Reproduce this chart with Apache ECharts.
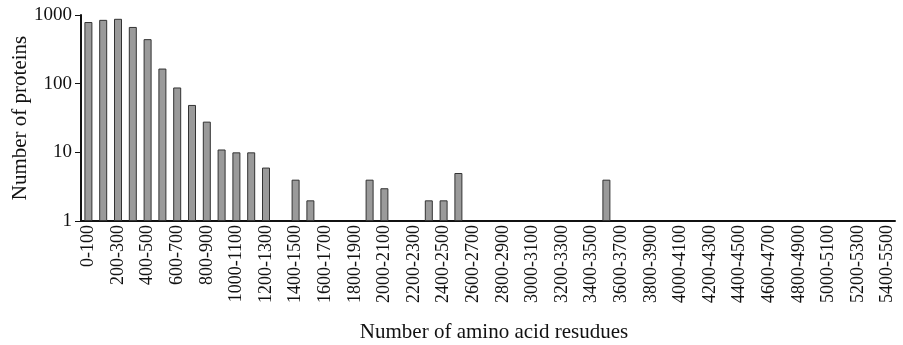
<!DOCTYPE html>
<html>
<head>
<meta charset="utf-8">
<script src="https://cdn.jsdelivr.net/npm/echarts@6/dist/echarts.min.js"></script>
<style>
  html, body { margin: 0; padding: 0; background: #fff; }
  #chart { width: 903px; height: 345px; }
</style>
</head>
<body>
<div id="chart"></div>
<script>
// 区间分类 0-100 ... 5400-5500
const categories = [];
for (let i = 0; i < 55; i++) {
  categories.push(i * 100 + "-" + (i + 1) * 100);
}

// 各区间蛋白质数量（'-' 表示没有柱子）
const proteinCounts = [
  790, 850, 880, 670, 445, 166, 88, 49, 28, 11,
  10, 10, 6, "-", 4, 2, "-", "-", "-", 4,
  3, "-", "-", 2, 2, 5, "-", "-", "-", "-",
  "-", "-", "-", "-", "-", 4, "-", "-", "-", "-",
  "-", "-", "-", "-", "-", "-", "-", "-", "-", "-",
  "-", "-", "-", "-", "-"
];

const yTicks = [1, 10, 100, 1000];

const font = "Liberation Serif";
const myChart = echarts.init(document.getElementById("chart"));

myChart.setOption({
  animation: false,
  textStyle: { fontFamily: font },
  grid: { left: 81, right: 8, top: 15, bottom: 124, outerBoundsMode: "none" },
  xAxis: {
    type: "category",
    data: categories,
    name: "Number of amino acid resudues",
    nameLocation: "middle",
    nameGap: 101,
    nameMoveOverlap: false,
    nameTextStyle: {
      fontFamily: font,
      fontSize: 21,
      color: "#111",
      padding: [0, 0, 0, 12],
    },
    axisLine: { lineStyle: { color: "#111", width: 2 } },
    axisTick: { show: false },
    axisLabel: {
      interval: 1,
      rotate: 90,
      fontFamily: font,
      fontSize: 18,
      color: "#111",
      margin: 4,
    },
  },
  yAxis: {
    type: "log",
    logBase: 10,
    min: 1,
    max: 1000,
    name: "Number of proteins",
    nameLocation: "middle",
    nameGap: 50,
    nameMoveOverlap: false,
    nameTextStyle: { fontFamily: font, fontSize: 21, color: "#111" },
    axisLine: { show: true, lineStyle: { color: "#111", width: 2 } },
    axisTick: { show: true, length: 6, lineStyle: { color: "#111" } },
    axisLabel: {
      fontFamily: font,
      fontSize: 19,
      color: "#111",
      margin: 9,
      formatter: (v) => (yTicks.includes(Math.round(v)) ? String(Math.round(v)) : ""),
    },
    splitLine: { show: false },
  },
  series: [
    {
      type: "bar",
      data: proteinCounts,
      barWidth: 8,
      itemStyle: {
        color: "#9a9a9a",
        borderColor: "#333",
        borderWidth: 1,
      },
    },
  ],
});
</script>
</body>
</html>
